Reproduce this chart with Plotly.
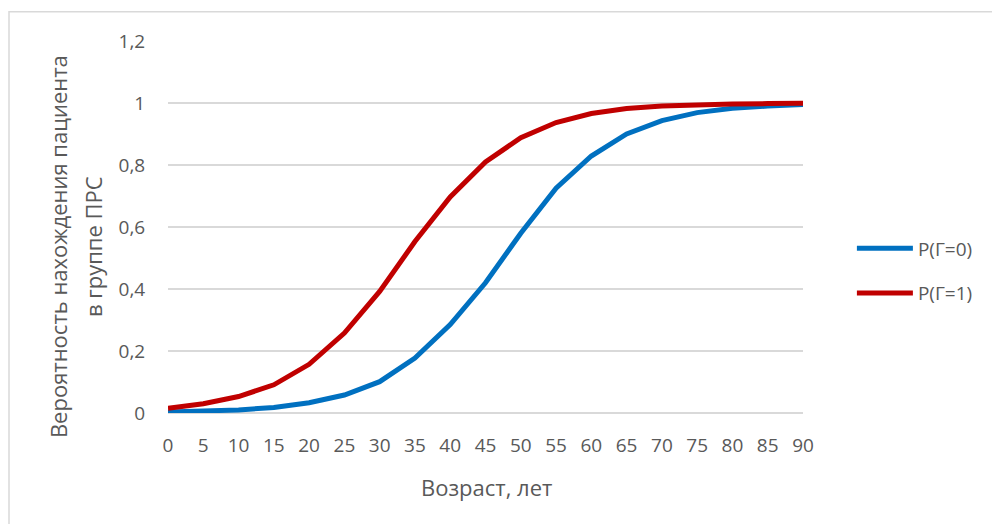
import plotly.graph_objects as go

# Age groups (years) and probability of being in the PRS group
age = [0, 5, 10, 15, 20, 25, 30, 35, 40, 45, 50, 55, 60, 65, 70, 75, 80, 85, 90]
p_g0 = [0.003, 0.005, 0.010, 0.018, 0.033, 0.058, 0.101, 0.177, 0.285, 0.420, 0.580,
        0.725, 0.829, 0.900, 0.943, 0.969, 0.983, 0.990, 0.995]
p_g1 = [0.015, 0.030, 0.053, 0.091, 0.157, 0.258, 0.392, 0.553, 0.697, 0.810, 0.888,
        0.937, 0.966, 0.982, 0.990, 0.995, 0.997, 0.998, 0.999]

series_names = ["P(Γ=0)", "P(Γ=1)"]
series_colors = ["#0070C0", "#C00000"]

x_title = "Возраст, лет"
y_title_lines = ["Вероятность нахождения пациента", "в группе ПРС"]

FONT = "Open Sans"
TEXT_COLOR = "#595959"
GRID_COLOR = "#d9d9d9"

fig = go.Figure()
for name, values, color in zip(series_names, [p_g0, p_g1], series_colors):
    fig.add_trace(go.Scatter(
        x=age, y=values, mode="lines", name=name, legendgroup=name,
        line=dict(color=color, width=5),
    ))

# y-axis title, one annotation per line
y_title_x = [-0.1732, -0.1181]
annotations = [
    dict(text=x_title, xref="paper", yref="paper", x=0.502, y=-0.199,
         xanchor="center", yanchor="middle", showarrow=False,
         font=dict(size=22, color=TEXT_COLOR)),
]
for line_text, xpos in zip(y_title_lines, y_title_x):
    annotations.append(dict(
        text=line_text, xref="paper", yref="paper", x=xpos, y=0.446,
        xanchor="center", yanchor="middle", showarrow=False, textangle=-90,
        font=dict(size=22, color=TEXT_COLOR)))

fig.update_layout(
    width=992, height=524,
    margin=dict(l=168, r=189, t=41, b=111, autoexpand=False),
    paper_bgcolor="white", plot_bgcolor="white",
    separators=", ",
    font=dict(family=FONT, size=19, color=TEXT_COLOR),
    showlegend=True,
    legend=dict(
        x=1.077, xanchor="left", y=0.382, yanchor="middle",
        tracegroupgap=17, font=dict(size=19, color=TEXT_COLOR),
        bgcolor="rgba(0,0,0,0)", itemwidth=56,
    ),
    xaxis=dict(
        range=[0, 90], tickmode="array", tickvals=age,
        showgrid=False, zeroline=False, showline=False,
        ticks="outside", ticklen=15, tickcolor="rgba(0,0,0,0)",
        tickfont=dict(size=19, color=TEXT_COLOR),
    ),
    yaxis=dict(
        range=[0, 1.2], dtick=0.2, tick0=0,
        showgrid=True, gridcolor=GRID_COLOR, gridwidth=1.5,
        zeroline=True, zerolinecolor=GRID_COLOR, zerolinewidth=1.5,
        showline=False,
        ticks="outside", ticklen=18, tickcolor="rgba(0,0,0,0)",
        tickfont=dict(size=19, color=TEXT_COLOR),
    ),
    annotations=annotations,
    shapes=[
        # chart frame (top and left edges visible)
        dict(type="rect", xref="paper", yref="paper",
             x0=-0.2504, x1=1.40, y0=-0.40, y1=1.0788,
             line=dict(color=GRID_COLOR, width=1.5), layer="below"),
    ],
)

fig.write_html("out.html")
